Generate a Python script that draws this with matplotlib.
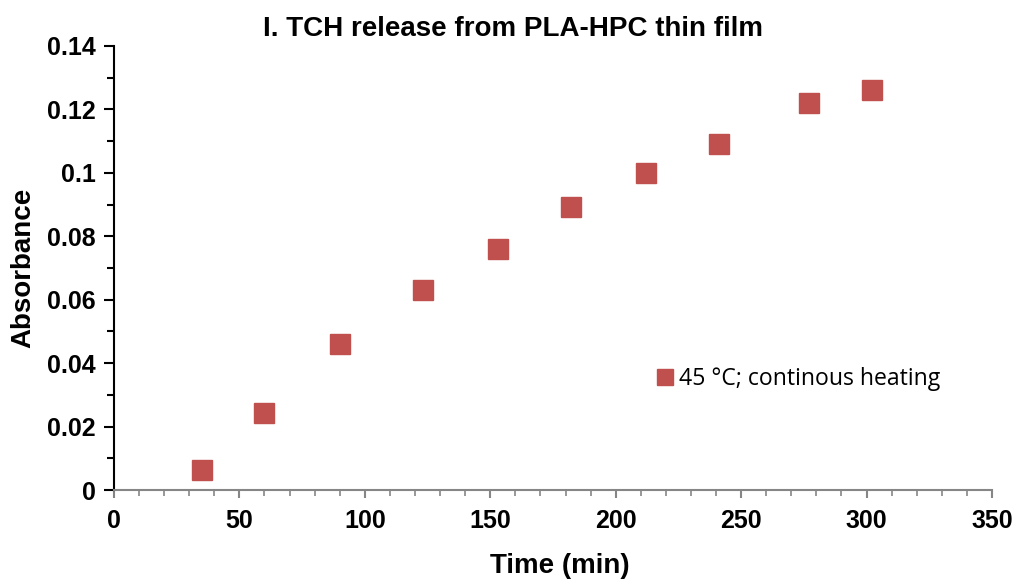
import matplotlib
matplotlib.use("Agg")
import matplotlib.pyplot as plt
from matplotlib.ticker import MultipleLocator, FuncFormatter

time_min = [35, 60, 90, 123, 153, 182, 212, 241, 277, 302]
absorbance = [0.0063, 0.0243, 0.046, 0.063, 0.076, 0.0892, 0.100, 0.109, 0.122, 0.126]
series_label = "45 °C; continous heating"
title = "I. TCH release from PLA-HPC thin film"

plt.rcParams["font.family"] = ["Liberation Sans", "DejaVu Sans"]

fig = plt.figure(figsize=(10.15, 5.79), dpi=100)
ax = fig.add_axes([0.1123, 0.1537, 0.865, 0.7669])

ax.plot(time_min, absorbance, linestyle="none", marker="s", markersize=14,
        color="#C0504D", markeredgecolor="#C0504D", label=series_label)

ax.set_xlim(0, 350)
ax.set_ylim(0, 0.14)
ax.xaxis.set_major_locator(MultipleLocator(50))
ax.xaxis.set_minor_locator(MultipleLocator(10))
ax.yaxis.set_major_locator(MultipleLocator(0.02))
ax.yaxis.set_minor_locator(MultipleLocator(0.01))
ax.yaxis.set_major_formatter(FuncFormatter(lambda v, p: f"{v:.2f}".rstrip("0").rstrip(".") if v else "0"))

for s in ("top", "right"):
    ax.spines[s].set_visible(False)
ax.spines["left"].set_color("black")
ax.spines["left"].set_linewidth(1.5)
ax.spines["bottom"].set_color("#868686")
ax.spines["bottom"].set_linewidth(1.5)

ax.tick_params(axis="x", which="major", length=6, width=1.5, color="#868686", pad=8)
ax.tick_params(axis="x", which="minor", length=4, width=1.2, color="#868686")
ax.tick_params(axis="y", which="major", length=7, width=1.5, color="black", pad=6)
ax.tick_params(axis="y", which="minor", length=5, width=1.5, color="black")
for lab in ax.get_xticklabels() + ax.get_yticklabels():
    lab.set_fontsize(18)
    lab.set_fontweight("bold")

ax.set_xlabel("Time (min)", fontsize=20, fontweight="bold")
ax.xaxis.set_label_coords(0.508, -0.142)
ax.set_ylabel("Absorbance", fontsize=20, fontweight="bold", labelpad=8)
ax.set_title(title, fontsize=20, fontweight="bold", pad=7, x=0.455)

leg = ax.legend(loc="center left", bbox_to_anchor=(0.588, 0.25), frameon=False,
                prop={"family": ["Open Sans", "DejaVu Sans"], "size": 16.6},
                handletextpad=0.0, handlelength=1.2, markerscale=0.85)

fig.savefig("out.png", dpi=100, facecolor="white")
